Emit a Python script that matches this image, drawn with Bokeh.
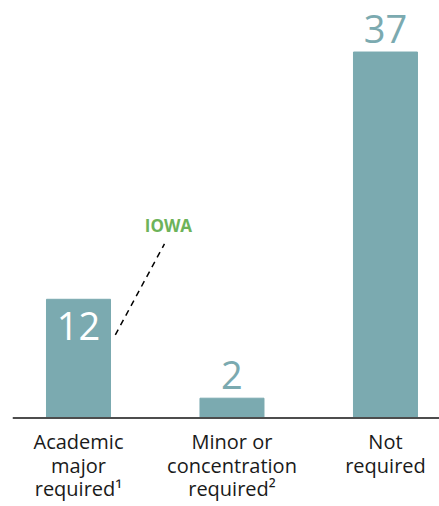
from bokeh.plotting import figure
from bokeh.models import ColumnDataSource, Range1d, Span
from bokeh.core.properties import value
from bokeh.embed import file_html
from bokeh.resources import INLINE

categories = ["Academic\nmajor\nrequired¹", "Minor or\nconcentration\nrequired²", "Not\nrequired"]
counts = [12, 2, 37]
highlight_label = "IOWA"

BAR = "#7BAAB0"
FONT = "Open Sans"

xs = list(range(len(categories)))

p = figure(width=439, height=506, output_backend="svg", toolbar_location=None,
           x_range=Range1d(-0.43, 2.352), y_range=Range1d(-8.95, 42.21),
           min_border_left=12, min_border_right=0, min_border_top=0, min_border_bottom=0)
p.outline_line_color = None
p.grid.visible = False
p.axis.visible = False

src = ColumnDataSource(dict(x=xs, v=counts, zero=[0] * len(xs), cat=categories))
p.vbar(x="x", top="v", bottom=0, width=0.417, color=BAR, source=src)

# baseline (category axis line)
p.add_layout(Span(location=0, dimension="width", line_color="#4d4d4d", line_width=2))

# category labels under the baseline
p.text(x="x", y="zero", text="cat", source=src, text_font=value(FONT),
       text_font_size="20px", text_color="#1a1a1a", text_align="center",
       text_baseline="top", text_line_height=0.88, y_offset=10)

# value labels: above short bars, inside the first bar
inside = [0]
out_idx = [i for i in xs if i not in inside]
out_src = ColumnDataSource(dict(x=[xs[i] for i in out_idx], v=[counts[i] for i in out_idx],
                                t=[str(counts[i]) for i in out_idx]))
in_src = ColumnDataSource(dict(x=[xs[i] for i in inside], v=[counts[i] for i in inside],
                               t=[str(counts[i]) for i in inside]))
p.text(x="x", y="v", text="t", source=out_src, text_font=value(FONT), text_font_size="38px",
       text_color=BAR, text_align="center", text_baseline="alphabetic", y_offset=-23)
p.text(x="x", y="v", text="t", source=in_src, text_font=value(FONT), text_font_size="38px",
       text_color="white", text_align="center", text_baseline="alphabetic", y_offset=27)

# IOWA callout, anchored to the first bar
hx, hv = xs[0], counts[0]
p.segment(x0=[hx + 0.24], y0=[hv - 3.6], x1=[hx + 0.56], y1=[hv + 5.6],
          line_color="black", line_width=1.5, line_dash="6 5")
p.text(x=[hx + 0.586], y=[hv + 6.7], text=[highlight_label], text_font=value(FONT),
       text_font_size="17px", text_font_style="bold", text_color="#6DB35A",
       text_align="center", text_baseline="alphabetic", y_offset=-8)

open("out.html", "w").write(file_html(p, INLINE))
